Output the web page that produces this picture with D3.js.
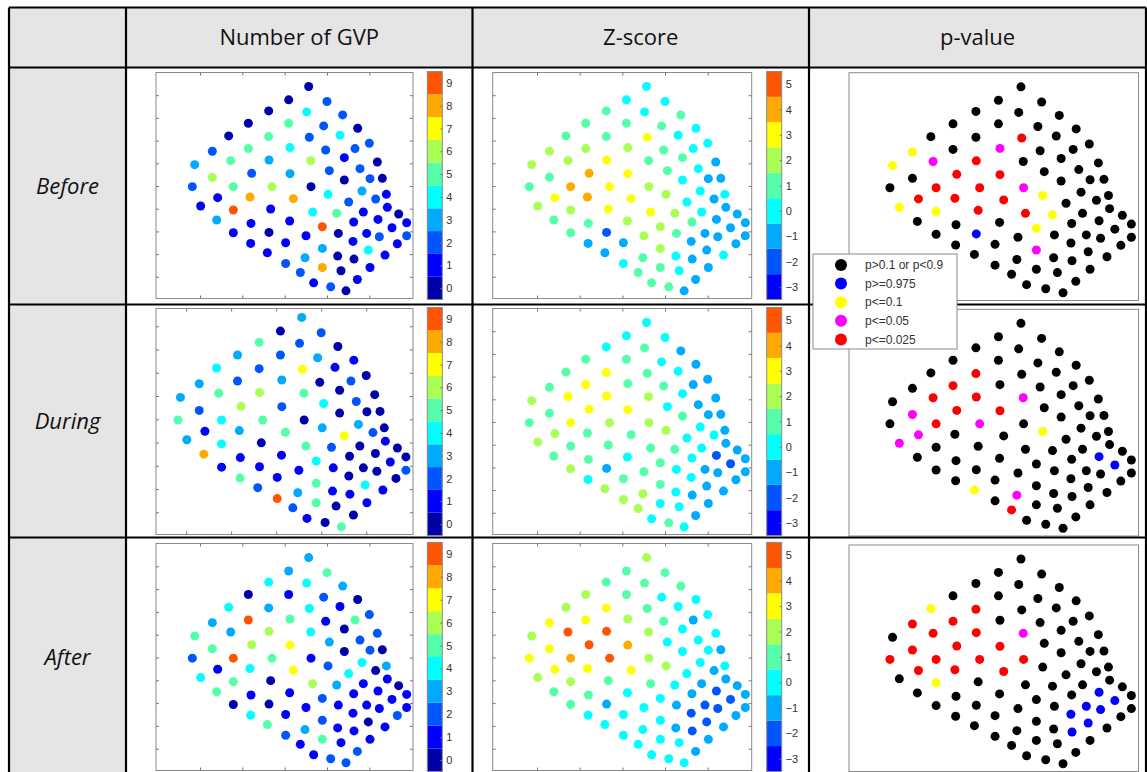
<!DOCTYPE html>
<html>
<head>
<meta charset="utf-8">
<style>
body { margin: 0; background: #fff; }
svg { display: block; }
.hdr { font-family: "Open Sans", sans-serif; font-size: 22px; fill: #111; }
.lbl { font-family: "Open Sans", sans-serif; font-size: 22px; font-style: italic; fill: #111; }
.cb text { font-family: "Liberation Sans", Arial, sans-serif; font-size: 11px; fill: #333; }
.ticks .domain { display: none; }
.ticks line { stroke: #777; }
.legend text { font-family: "Liberation Sans", Arial, sans-serif; font-size: 12px; fill: #333; }
</style>
</head>
<body>
<svg width="1147" height="772"></svg>
<script src="https://d3js.org/d3.v7.min.js"></script>
<script>
// sensor layout (same montage in every panel)
var sensorX = [476,416,531,356,470,578,295,416,521,623, 236,356,478,570,658,187,295,420,527,615,
               583,134,242,357,482,682,187,305,420,538, 630,583,660,697,127,250,366,483,203,300,
               430,534,636,709,677,152,250,362,596,488, 560,640,712,746,200,303,419,517,611,684,
               770,250,357,468,565,650,726,688,770,302, 407,517,609,655,742,352,563,612,705,407,
               465,517,573,660,451,622,491,542,588];
var sensorY = [50,90,95,123,126,135,160,160,168,175, 198,200,202,196,220,244,236,233,240,236,
               263,284,272,270,272,276,322,310,311,302, 296,330,326,325,350,350,350,350,383,381,
               386,373,363,373,387,408,420,417,396,426, 430,426,412,432,450,460,453,470,456,448,
               458,488,487,497,490,490,473,500,497,520, 518,535,514,540,521,548,558,567,555,580,
               563,592,602,592,607,628,638,650,662];

var rows = ["Before", "During", "After"];
var columns = ["Number of GVP", "Z-score", "p-value"];

// number of GVP per sensor
var gvpBefore = [0,0,2,0,4,2,0,5,2,0, 0,5,2,4,2,2,5,4,2,2, 1,3,5,3,6,0,6,2,3,2, 2,0,2,0,2,5,6,0,1,8,
                 8,4,3,1,2,1,9,1,2,4, 5,1,1,0,3,1,1,9,1,1, 1,1,0,1,0,1,1,2,2,1, 1,3,1,4,1,1,0,0,1,2,
                 3,8,0,1,2,1,1,2,0];
var gvpDuring = [3,0,2,5,2,0,3,2,3,1, 4,2,7,1,0,3,2,3,0,2, 0,3,5,6,5,0,2,6,2,4, 2,0,0,0,5,4,5,0,1,3,
                 5,3,3,0,2,3,4,0,7,5, 2,0,1,0,8,1,1,4,0,0, 0,1,1,1,1,0,1,0,2,5, 1,5,0,4,0,2,1,1,1,9,
                 3,5,0,1,2,0,1,0,5];
var gvpAfter  = [3,3,5,4,4,3,0,1,2,0, 4,3,4,1,2,3,9,5,1,5, 0,5,3,6,4,2,5,6,7,3, 2,0,2,0,2,9,5,1,1,4,
                 7,2,4,3,0,4,5,0,4,6, 3,1,1,0,5,1,1,2,1,1, 1,0,0,1,1,1,1,1,1,4, 1,2,1,0,2,5,1,1,1,2,
                 3,5,1,1,1,2,1,2,2];

// z-scores per sensor
var zBefore = [0,0,0,1,0,1,1,1,1,0, 1,1,3,0,0,2,2,2,1,0, 1,2,2,3,1,-1,1,4,3,1, 0,0,-1,-1,1,4,3,2,3,4,
               3,2,0,0,-1,2,2,3,0,3, 2,0,-1,-1,1,1,2,2,1,-1, -1,1,-2,2,1,-1,-1,-1,-1,-1,
               -1,2,-1,-1,-1,-1,0,-1,0,0, 1,1,0,-1,1,-1,1,1,-1];
var zDuring = [0,0,0,0,1,-1,1,1,0,-1, 1,3,1,0,-1,1,3,1,1,-1, 0,2,3,3,2,-1,1,3,3,0, -1,1,-1,-1,1,3,2,2,2,1,
               1,2,0,-1,0,2,1,1,0,1, 1,0,-1,-1,1,1,0,1,0,-2, -1,2,-1,1,0,-1,-2,-1,-1,0,
               1,1,0,-1,-1,2,0,-1,-1,2, 2,0,0,-1,2,-1,0,1,0];
var zAfter  = [2,1,1,1,1,1,2,1,0,0, 2,3,1,0,0,3,3,2,1,-1, 0,2,5,5,2,0,3,5,4,0, 0,0,0,-1,3,4,5,2,3,3,
               3,2,0,0,-1,2,2,1,0,1, 0,-1,-1,-1,1,1,0,0,-1,-2, -1,1,-1,0,-1,-2,-2,-2,-1,0,
               0,0,-2,-2,-1,0,-1,-2,-1,0, 0,0,0,-1,0,-1,0,0,0];

// p-value class per sensor (index into pLabels)
var pBefore = [0,0,0,0,0,0,0,0,0,0, 0,0,4,0,0,2,0,3,0,0, 0,2,3,4,0,0,0,4,4,0, 0,0,0,0,0,4,4,3,4,4,
               4,2,0,0,0,2,2,4,0,4, 2,0,0,0,0,0,0,2,0,0, 0,0,1,0,0,0,0,0,0,0, 0,3,0,0,0,0,0,0,0,0,
               0,0,0,0,0,0,0,0,0];
var pDuring = [0,0,0,0,0,0,0,0,0,0, 0,4,0,0,0,0,4,0,0,0, 0,0,4,4,3,0,3,4,4,0, 0,0,0,0,0,4,3,0,3,0,
               0,2,0,0,0,3,0,0,0,0, 0,0,0,0,0,0,0,0,0,1, 0,0,0,0,0,0,1,0,0,0, 0,0,0,0,0,2,0,0,0,0,
               3,0,0,0,4,0,0,0,0];
var pAfter  = [0,0,0,0,0,0,0,0,0,0, 2,4,0,0,0,4,4,0,0,0, 0,0,4,4,3,0,4,4,4,0, 0,0,0,0,4,4,4,4,4,4,
               4,0,0,0,0,0,2,0,0,0, 0,0,0,0,0,0,0,0,0,1, 0,0,0,0,0,1,1,1,0,0, 0,0,1,1,0,0,0,1,0,0,
               0,0,0,0,0,0,0,0,0];

var gvpLevels = [0,1,2,3,4,5,6,7,8,9];
var zLevels = [-3,-2,-1,0,1,2,3,4,5];
var pLabels = ["p>0.1 or p<0.9", "p>=0.975", "p<=0.1", "p<=0.05", "p<=0.025"];
var pColors = ["#000000", "#0000ff", "#ffff00", "#ff00ff", "#ff0000"];
var xTickValues = [150, 277, 404, 531, 658];
var yTickValues = [76, 144, 212, 280, 348, 416, 484, 552, 620];

// jet(10) colormap
var jet = ["#0000aa","#0000ff","#0055ff","#00aaff","#00ffff","#55ffaa","#aaff55","#ffff00","#ffaa00","#ff5500"];
var gvpColor = d3.scaleQuantize().domain([-0.5, 9.5]).range(jet);
var zColor = d3.scaleQuantize().domain([-3.5, 5.5]).range(jet.slice(1));

var svg = d3.select("svg");

// ---- table
var tbl = {left: 9, right: 1146, top: 7.5, head: 67.5, bottom: 790},
    colLines = [126, 472.5, 809],
    rowLines = [304.5, 537.5];

svg.append("rect").attr("x", tbl.left).attr("y", tbl.top)
    .attr("width", tbl.right - tbl.left).attr("height", tbl.head - tbl.top).attr("fill", "#e6e5e5");
svg.append("rect").attr("x", tbl.left).attr("y", tbl.head)
    .attr("width", colLines[0] - tbl.left).attr("height", tbl.bottom - tbl.head).attr("fill", "#e6e5e5");

var colCenters = [(colLines[0] + colLines[1]) / 2, (colLines[1] + colLines[2]) / 2, (colLines[2] + tbl.right) / 2];
svg.selectAll(".hdr").data(columns).enter().append("text")
    .attr("class", "hdr")
    .attr("x", function(d, i) { return colCenters[i]; })
    .attr("y", 45)
    .attr("text-anchor", "middle")
    .text(function(d) { return d; });

var rowBounds = [tbl.head, rowLines[0], rowLines[1], 776];
svg.selectAll(".lbl").data(rows).enter().append("text")
    .attr("class", "lbl")
    .attr("x", (tbl.left + colLines[0]) / 2)
    .attr("y", function(d, i) { return (rowBounds[i] + rowBounds[i + 1]) / 2 + 8; })
    .attr("text-anchor", "middle")
    .text(function(d) { return d; });

// ---- panels
var frameRows = [[72.5, 298.5], [308.5, 534.5], [543.5, 770.5]],
    pRows = [[72.7, 300.5], [309.3, 536], [545, 771.5]],
    defaultX = [18, 789], defaultY = [8, 685];

var panels = [
    {row: 0, kind: "gvp", values: gvpBefore},
    {row: 0, kind: "z", values: zBefore},
    {row: 0, kind: "p", values: pBefore},
    {row: 1, kind: "gvp", values: gvpDuring, xDomain: [65, 790], yDomain: [24, 685]},
    {row: 1, kind: "z", values: zDuring},
    {row: 1, kind: "p", values: pDuring},
    {row: 2, kind: "gvp", values: gvpAfter},
    {row: 2, kind: "z", values: zAfter},
    {row: 2, kind: "p", values: pAfter}
];

var frameCols = {gvp: [156, 413], z: [492.7, 751.7], p: [849, 1138.5]},
    cbCols = {gvp: [427.3, 442.3], z: [766.7, 781.7]};

panels.forEach(function(p) {
    var fx = frameCols[p.kind],
        fy = p.kind === "p" ? pRows[p.row] : frameRows[p.row];
    var x = d3.scaleLinear().domain(p.xDomain || defaultX).range(fx),
        y = d3.scaleLinear().domain(p.yDomain || defaultY).range(fy);
    var g = svg.append("g");

    g.append("rect")
        .attr("x", fx[0]).attr("y", fy[0])
        .attr("width", fx[1] - fx[0]).attr("height", fy[1] - fy[0])
        .attr("fill", "#fff").attr("stroke", "#8a8a8a").attr("stroke-width", 1);

    if (p.kind !== "p") {
        var tk = g.append("g").attr("class", "ticks");
        tk.append("g").attr("transform", "translate(0," + fy[1] + ")")
            .call(d3.axisBottom(x).tickValues(xTickValues).tickSize(-3).tickFormat(""));
        tk.append("g").attr("transform", "translate(0," + fy[0] + ")")
            .call(d3.axisTop(x).tickValues(xTickValues).tickSize(-3).tickFormat(""));
        tk.append("g").attr("transform", "translate(" + fx[0] + ",0)")
            .call(d3.axisLeft(y).tickValues(yTickValues).tickSize(-3).tickFormat(""));
        tk.append("g").attr("transform", "translate(" + fx[1] + ",0)")
            .call(d3.axisRight(y).tickValues(yTickValues).tickSize(-3).tickFormat(""));
    }

    var color = p.kind === "gvp" ? gvpColor : p.kind === "z" ? zColor : function(v) { return pColors[v]; };

    g.selectAll("circle").data(p.values).enter().append("circle")
        .attr("cx", function(d, i) { return x(sensorX[i]); })
        .attr("cy", function(d, i) { return y(sensorY[i]); })
        .attr("r", 4.5)
        .attr("fill", function(d) { return color(d); });

    if (p.kind !== "p") {
        var levels = p.kind === "gvp" ? gvpLevels : zLevels,
            cx = cbCols[p.kind],
            cby = [fy[0] - 1, fy[1] + 1];
        var cb = d3.scaleLinear()
            .domain([levels[0] - 0.5, levels[levels.length - 1] + 0.5])
            .range([cby[1], cby[0]]);
        var cg = g.append("g").attr("class", "cb");
        cg.selectAll("rect").data(levels).enter().append("rect")
            .attr("x", cx[0])
            .attr("y", function(d) { return cb(d + 0.5); })
            .attr("width", cx[1] - cx[0])
            .attr("height", function(d) { return cb(d - 0.5) - cb(d + 0.5); })
            .attr("fill", function(d) { return color(d); });
        cg.append("rect")
            .attr("x", cx[0]).attr("y", cby[0])
            .attr("width", cx[1] - cx[0]).attr("height", cby[1] - cby[0])
            .attr("fill", "none").attr("stroke", "#8a8a8a");
        var ax = cg.append("g").attr("class", "ticks")
            .attr("transform", "translate(" + cx[1] + ",0)")
            .call(d3.axisRight(cb).tickValues(levels).tickSize(-2).tickPadding(4));
        ax.selectAll("text").attr("fill", "#333");
    }
});

// ---- table grid lines
var grid = svg.append("g").attr("stroke", "#000").attr("stroke-width", 2.2);
[tbl.left, colLines[0], colLines[1], colLines[2], tbl.right].forEach(function(cx) {
    grid.append("line").attr("x1", cx).attr("x2", cx).attr("y1", tbl.top).attr("y2", tbl.bottom);
});
[tbl.top, tbl.head, rowLines[0], rowLines[1]].forEach(function(ry) {
    grid.append("line").attr("x1", tbl.left).attr("x2", tbl.right).attr("y1", ry).attr("y2", ry);
});

// ---- p-value legend
var lg = svg.append("g").attr("class", "legend").attr("transform", "translate(813,254)");
lg.append("rect").attr("width", 144).attr("height", 95)
    .attr("fill", "#fff").attr("stroke", "#8a8a8a");
var item = lg.selectAll(".item").data(pLabels).enter().append("g")
    .attr("transform", function(d, i) { return "translate(0," + (11 + i * 18.6) + ")"; });
item.append("circle").attr("cx", 28).attr("r", 6)
    .attr("fill", function(d, i) { return pColors[i]; });
item.append("text").attr("x", 52).attr("dy", "0.35em")
    .text(function(d) { return d; });
</script>
</body>
</html>
